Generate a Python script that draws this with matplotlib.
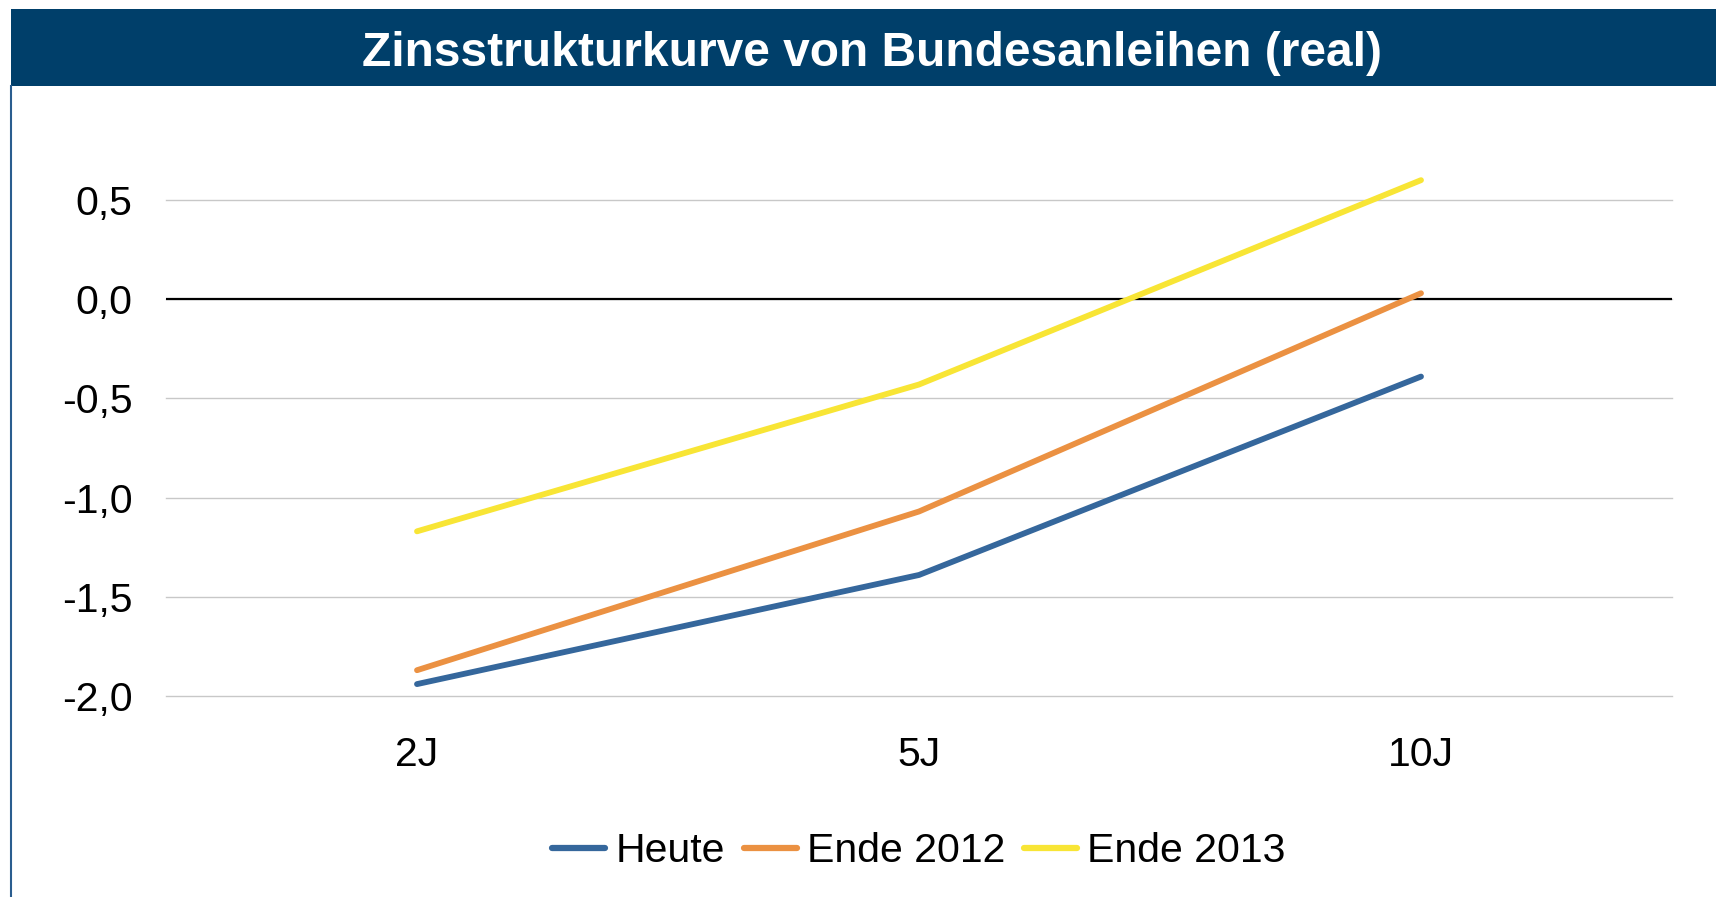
import matplotlib
matplotlib.use("Agg")
import matplotlib.pyplot as plt
from matplotlib.patches import Rectangle
from matplotlib.lines import Line2D

plt.rcParams['font.family'] = ['Liberation Sans', 'DejaVu Sans']

categories = ["2J", "5J", "10J"]
heute = [-1.94, -1.39, -0.39]
ende_2012 = [-1.87, -1.07, 0.03]
ende_2013 = [-1.17, -0.43, 0.60]
series_names = ["Heute", "Ende 2012", "Ende 2013"]
colors = ["#35679C", "#EB9142", "#F8E535"]
yticks = [-2.0, -1.5, -1.0, -0.5, 0.0, 0.5]
title = "Zinsstrukturkurve von Bundesanleihen (real)"

W, H = 1716, 897
fig = plt.figure(figsize=(W / 100, H / 100), dpi=100)

# title bar
fig.patches.append(Rectangle((11 / W, 1 - 86 / H), 1 - 11 / W, 77 / H,
                             transform=fig.transFigure, facecolor="#003F6A",
                             edgecolor="none", zorder=0))
fig.lines.append(Line2D([11 / W, 11 / W], [0, 1 - 86 / H], transform=fig.transFigure,
                        color="#2A5D8F", lw=1.5))
fig.text(872 / W, 1 - 53 / H, title, color="white", fontsize=34.5,
         fontweight="bold", ha="center", va="center")

left, right, top, bottom = 166, 1672, 200, 696
ax = fig.add_axes([left / W, 1 - bottom / H, (right - left) / W, (bottom - top) / H])

x = list(range(len(categories)))
for vals, name, c in zip([heute, ende_2012, ende_2013], series_names, colors):
    ax.plot(x, vals, color=c, lw=4.2, solid_capstyle="round", label=name,
            clip_on=False, zorder=3)

ax.set_xlim(-0.5, len(categories) - 0.5)
ax.set_ylim(-2.0, 0.5)
ax.set_yticks(yticks)
ax.set_yticklabels([f"{v:.1f}".replace(".", ",") for v in yticks])
ax.set_xticks(x)
ax.set_xticklabels(categories)
ax.tick_params(axis="y", length=0, pad=24, labelsize=29.5)
ax.tick_params(axis="x", length=0, pad=29, labelsize=29.5)
for s in ax.spines.values():
    s.set_visible(False)
ax.grid(axis="y", color="#C8C8C8", lw=1.0)
for gl in ax.get_ygridlines():
    gl.set_clip_on(False)
ax.set_axisbelow(True)
ax.axhline(0, color="black", lw=1.6, zorder=2)

leg = ax.legend(loc="center", bbox_to_anchor=(0.5, (696 - 851) / (696 - 200)),
                ncol=3, frameon=False, fontsize=29.5, handlelength=1.3,
                handletextpad=0.25, columnspacing=0.45, borderaxespad=0)
for h in leg.get_lines():
    h.set_linewidth(4.5)
    h.set_solid_capstyle("round")

fig.savefig("out.png", dpi=100)
